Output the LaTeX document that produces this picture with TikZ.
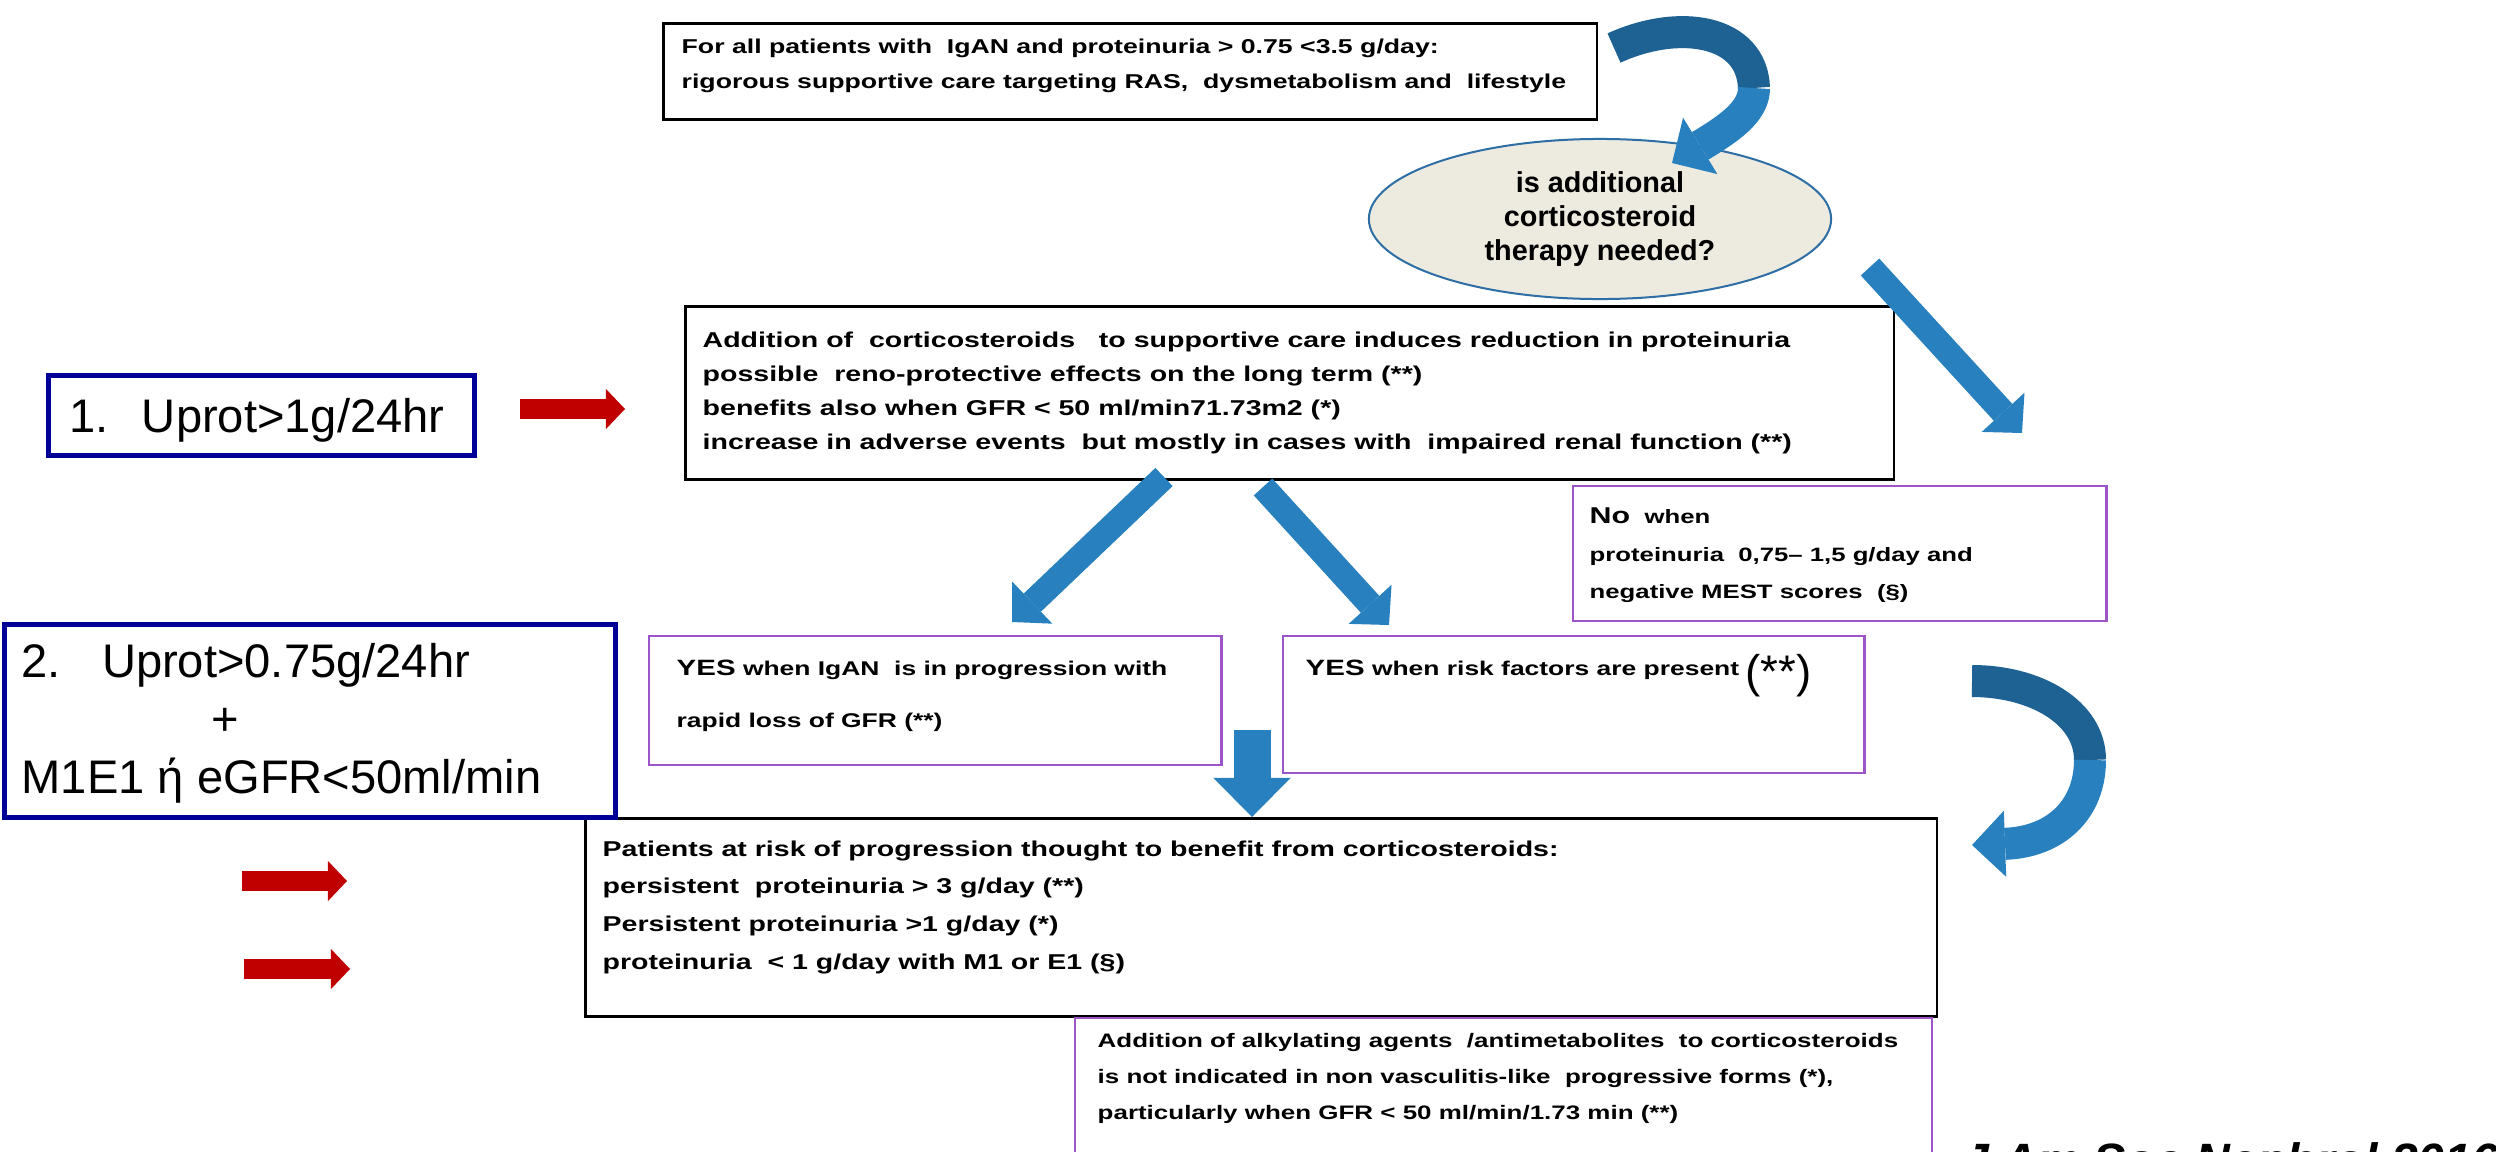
\documentclass[tikz,border=0pt]{standalone}
\usepackage{fontspec}
\setmainfont{Liberation Sans}
\newfontfamily\flowfont[FakeStretch=1.33]{Liberation Sans}
\usetikzlibrary{arrows.meta,positioning,shapes.geometric}

\definecolor{arrowblue}{RGB}{40,128,190}
\definecolor{arrowdark}{RGB}{30,98,148}
\definecolor{boxpurple}{RGB}{155,85,200}
\definecolor{boxnavy}{RGB}{0,0,150}
\definecolor{ovalfill}{RGB}{237,235,224}
\definecolor{ovalline}{RGB}{45,110,165}
\definecolor{redarrow}{RGB}{192,0,0}

\tikzset{
  flowbox/.style={draw=black, line width=0.025cm, inner sep=0, anchor=north west},
  yesbox/.style={draw=boxpurple, line width=0.022cm, inner sep=0, anchor=north west},
  condbox/.style={draw=boxnavy, line width=0.045cm, inner sep=0, anchor=north west},
  flowtext/.style={inner sep=0, anchor=north west, align=left},
  bluearr/.style={draw=arrowblue, line width=0.25cm, -{Triangle[width=0.58cm,length=0.28cm,line width=0pt]}},
  downarr/.style={draw=arrowblue, line width=0.37cm, -{Triangle[width=0.77cm,length=0.39cm,line width=0pt]}},
  bendarr/.style={draw=arrowblue, line width=0.32cm, -{Triangle[width=0.66cm,length=0.33cm,line width=0pt]}},
  bendtail/.style={draw=arrowdark, line width=0.32cm},
  redarr/.style={draw=redarrow, line width=0.2cm, -{Triangle[width=0.4cm,length=0.19cm,line width=0pt]}}
}

\begin{document}
\begin{tikzpicture}[x=0.01cm, y=-0.01cm]
\useasboundingbox (0,0) rectangle (2496,1151);

\node[flowbox, minimum width=9.33cm, minimum height=0.96cm] (allpts) at (662,22) {};
\node[flowtext, font=\flowfont\bfseries\fontsize{5.7}{10}\selectfont] (allptstxt) at (681,38)
  {For all patients with~ IgAN and proteinuria > 0.75 <3.5 g/day:\\rigorous supportive care targeting RAS,~ dysmetabolism and~ lifestyle};

\node[ellipse, draw=ovalline, line width=0.02cm, fill=ovalfill, inner sep=0,
  minimum width=4.62cm, minimum height=1.6cm, align=center,
  font=\bfseries\fontsize{8.2}{9.6}\selectfont] (needed) at (1600,219)
  {is additional\\corticosteroid\\therapy needed?};

\node[flowbox, minimum width=12.08cm, minimum height=1.73cm] (steroid) at (684,305) {};
\node[flowtext, font=\flowfont\bfseries\fontsize{6.1}{9.7}\selectfont] (steroidtxt) at (702,331)
  {Addition of~ corticosteroids~~ to supportive care induces reduction in proteinuria\\
   possible~ reno-protective effects on the long term (**)\\
   benefits also when GFR < 50 ml/min71.73m2 (*)\\
   increase in adverse events~ but mostly in cases with~ impaired renal function (**)};

\node[yesbox, minimum width=5.33cm, minimum height=1.35cm] (nobox) at (1572,485) {};
\node[flowtext, font=\flowfont\bfseries\fontsize{5.5}{10.7}\selectfont] (notxt) at (1589,507)
  {{\fontsize{6.5}{6.5}\selectfont No}~ when\\proteinuria~ 0,75– 1,5 g/day and\\negative MEST scores~ (§)};

\node[yesbox, minimum width=5.72cm, minimum height=1.29cm] (yesA) at (648,635) {};
\node[flowtext, font=\flowfont\bfseries\fontsize{5.65}{14.8}\selectfont] (yesAtxt) at (676,659)
  {{\fontsize{6.3}{6.3}\selectfont YES} when IgAN~ is in progression with\\rapid loss of GFR (**)};

\node[yesbox, minimum width=5.81cm, minimum height=1.37cm] (yesB) at (1282,635) {};
\node[flowtext, font=\flowfont\bfseries\fontsize{5.65}{14.8}\selectfont] (yesBtxt) at (1305,659)
  {{\fontsize{6.3}{6.3}\selectfont YES} when risk factors are present};
\node[anchor=base west, inner sep=0, font=\fontsize{13}{13}\selectfont] (yesBstar) at (1745,687) {(**)};

\node[flowbox, minimum width=13.51cm, minimum height=1.98cm] (risk) at (584,817) {};
\node[flowtext, font=\flowfont\bfseries\fontsize{6.1}{10.7}\selectfont] (risktxt) at (602,840)
  {Patients at risk of progression thought to benefit from corticosteroids:\\
   persistent~ proteinuria > 3 g/day (**)\\
   Persistent proteinuria >1 g/day (*)\\
   proteinuria~ < 1 g/day with M1 or E1 (§)};

\node[yesbox, minimum width=8.56cm, minimum height=1.6cm] (alky) at (1074,1017) {};
\node[flowtext, font=\flowfont\bfseries\fontsize{5.55}{10.2}\selectfont] (alkytxt) at (1097,1033)
  {Addition of alkylating agents~ /antimetabolites~ to corticosteroids\\
   is not indicated in non vasculitis-like~ progressive forms (*),\\
   particularly when GFR < 50 ml/min/1.73 min (**)};

\node[condbox, minimum width=4.26cm, minimum height=0.8cm] (cond1) at (46,373) {};
\node[anchor=base west, inner sep=0, font=\fontsize{13.4}{16}\selectfont] (cond1txt) at (69,432)
  {1.\hspace{0.33cm}Uprot>1g/24hr};

\node[condbox, minimum width=6.11cm, minimum height=1.93cm] (cond2) at (2,622) {};
\node[flowtext, font=\fontsize{13.4}{16.5}\selectfont] (cond2txt) at (21,643)
  {2.\hspace{0.41cm}Uprot>0.75g/24hr\\\hspace*{1.9cm}+\\M1E1 ή eGFR<50ml/min};

\node[anchor=base west, inner sep=0, font=\bfseries\itshape\fontsize{13.7}{14}\selectfont] (cite) at (1962,1177)
  {J Am Soc Nephrol 2016};

\coordinate (topA) at (1614,48);
\coordinate (topB) at (1754,88);
\coordinate (topC) at (1672,163);
\draw[bendtail] (topA) .. controls (1680,18) and (1752,30) .. (topB);
\draw[bendarr] (topB) .. controls (1754,112) and (1728,129) .. (topC);

\coordinate (noS) at (1870,267);
\coordinate (noE) at (2022,433);
\draw[bluearr] (noS) -- (noE);

\coordinate (yesAS) at (1164,477);
\coordinate (yesAE) at (1012,622);
\draw[bluearr] (yesAS) -- (yesAE);

\coordinate (yesBS) at (1263,487);
\coordinate (yesBE) at (1389,625);
\draw[bluearr] (yesBS) -- (yesBE);

\coordinate (riskS) at (1252,730);
\draw[downarr] (riskS) -- (risk.north -| riskS);

\coordinate (backA) at (1972,681);
\coordinate (backB) at (2090,760);
\coordinate (backC) at (1972,845);
\draw[bendtail] (backA) .. controls (2035,681) and (2090,712) .. (backB);
\draw[bendarr] (backB) .. controls (2090,810) and (2055,842) .. (backC);

\coordinate (r1s) at (520,409);
\coordinate (r1e) at (625,409);
\draw[redarr] (r1s) -- (r1e);
\coordinate (r2s) at (242,881);
\coordinate (r2e) at (347,881);
\draw[redarr] (r2s) -- (r2e);
\coordinate (r3s) at (244,969);
\coordinate (r3e) at (350,969);
\draw[redarr] (r3s) -- (r3e);
\end{tikzpicture}
\end{document}
